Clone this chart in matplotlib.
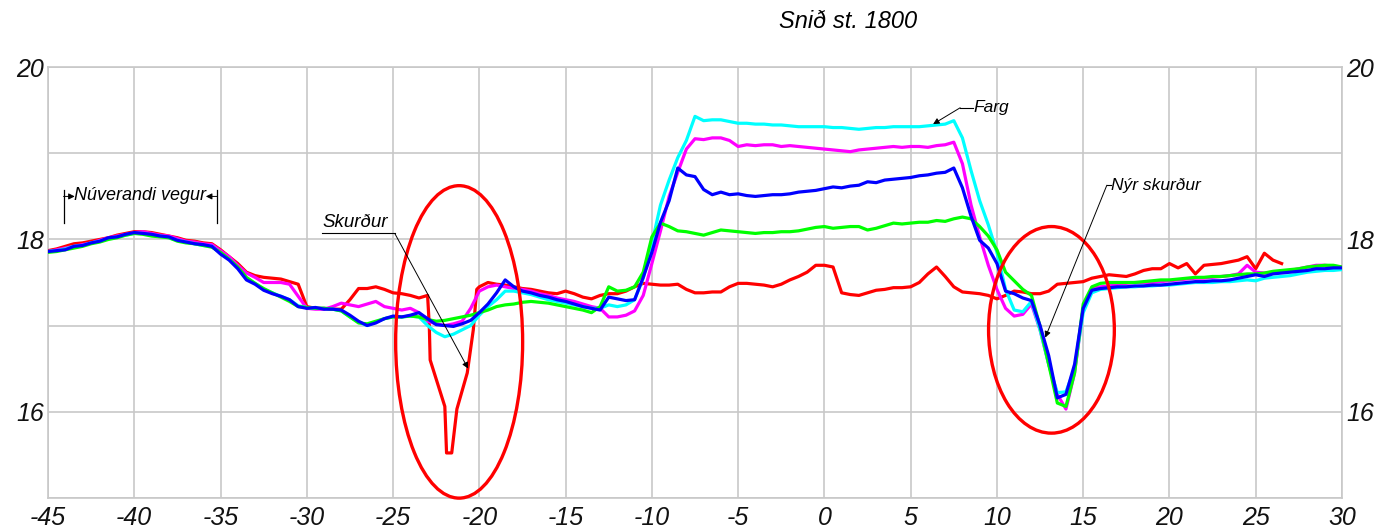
import numpy as np
import matplotlib
matplotlib.use('Agg')
import matplotlib.pyplot as plt
from matplotlib.patches import Ellipse

plt.rcParams['font.family'] = ['Liberation Sans', 'DejaVu Sans']
plt.rcParams['font.style'] = 'italic'
plt.rcParams['axes.unicode_minus'] = False

# ---------------- data (station x [m], elevation [m]) ----------------
x_grid = np.arange(-45, 30.01, 0.5)

blue = [17.86, 17.87, 17.88, 17.92, 17.93, 17.96, 17.98, 18.02, 18.03, 18.06,
        18.08, 18.07, 18.06, 18.04, 18.03, 17.99, 17.97, 17.95, 17.94, 17.92,
        17.83, 17.76, 17.66, 17.53, 17.48, 17.41, 17.37, 17.34, 17.30, 17.22,
        17.20, 17.21, 17.19, 17.19, 17.18, 17.12, 17.05, 17.00, 17.03, 17.08,
        17.11, 17.10, 17.12, 17.15, 17.08, 17.01, 17.00, 16.99, 17.02, 17.06,
        17.15, 17.25, 17.38, 17.53, 17.45, 17.40, 17.38, 17.35, 17.33, 17.30,
        17.28, 17.25, 17.22, 17.20, 17.18, 17.33, 17.31, 17.29, 17.30, 17.56,
        17.85, 18.20, 18.45, 18.83, 18.75, 18.73, 18.58, 18.52, 18.55, 18.52,
        18.53, 18.51, 18.50, 18.51, 18.52, 18.52, 18.53, 18.55, 18.56, 18.57,
        18.59, 18.61, 18.60, 18.62, 18.63, 18.67, 18.66, 18.69, 18.70, 18.71,
        18.72, 18.74, 18.75, 18.77, 18.78, 18.83, 18.60, 18.27, 17.99, 17.90,
        17.72, 17.40, 17.37, 17.32, 17.29, 17.00, 16.65, 16.16, 16.20, 16.55,
        17.20, 17.41, 17.43, 17.44, 17.45, 17.45, 17.46, 17.46, 17.47, 17.47,
        17.48, 17.49, 17.50, 17.51, 17.51, 17.52, 17.52, 17.53, 17.55, 17.57,
        17.59, 17.57, 17.60, 17.61, 17.62, 17.63, 17.64, 17.66, 17.66, 17.67,
        17.67]

green = [17.85, 17.86, 17.88, 17.90, 17.92, 17.95, 17.97, 18.00, 18.02, 18.05,
         18.07, 18.06, 18.04, 18.03, 18.02, 17.98, 17.96, 17.95, 17.93, 17.91,
         17.85, 17.77, 17.68, 17.56, 17.49, 17.43, 17.38, 17.33, 17.28, 17.22,
         17.21, 17.20, 17.20, 17.19, 17.17, 17.10, 17.03, 17.02, 17.05, 17.08,
         17.10, 17.10, 17.11, 17.10, 17.07, 17.05, 17.06, 17.08, 17.10, 17.12,
         17.15, 17.18, 17.22, 17.24, 17.25, 17.27, 17.28, 17.27, 17.26, 17.24,
         17.22, 17.20, 17.18, 17.15, 17.22, 17.45, 17.40, 17.41, 17.45, 17.62,
         18.03, 18.19, 18.15, 18.10, 18.09, 18.07, 18.05, 18.08, 18.11, 18.10,
         18.09, 18.08, 18.07, 18.08, 18.08, 18.09, 18.09, 18.10, 18.12, 18.14,
         18.15, 18.13, 18.14, 18.15, 18.15, 18.11, 18.13, 18.16, 18.19, 18.18,
         18.19, 18.20, 18.20, 18.22, 18.21, 18.24, 18.26, 18.24, 18.15, 18.04,
         17.88, 17.62, 17.52, 17.42, 17.35, 16.99, 16.55, 16.10, 16.06, 16.45,
         17.25, 17.45, 17.49, 17.50, 17.50, 17.50, 17.50, 17.51, 17.52, 17.53,
         17.53, 17.54, 17.55, 17.56, 17.56, 17.57, 17.57, 17.58, 17.59, 17.60,
         17.60, 17.61, 17.63, 17.64, 17.65, 17.66, 17.68, 17.69, 17.70, 17.70,
         17.68]

cyan = [17.86, 17.87, 17.89, 17.92, 17.93, 17.96, 17.98, 18.01, 18.03, 18.05,
        18.07, 18.07, 18.05, 18.04, 18.02, 17.99, 17.97, 17.95, 17.93, 17.92,
        17.84, 17.77, 17.67, 17.55, 17.49, 17.42, 17.38, 17.34, 17.30, 17.23,
        17.21, 17.20, 17.20, 17.19, 17.17, 17.10, 17.04, 17.00, 17.04, 17.08,
        17.10, 17.10, 17.11, 17.10, 17.00, 16.92, 16.87, 16.90, 16.95, 17.00,
        17.12, 17.22, 17.30, 17.40, 17.40, 17.38, 17.36, 17.33, 17.30, 17.28,
        17.26, 17.24, 17.22, 17.20, 17.20, 17.24, 17.22, 17.24, 17.30, 17.55,
        17.95, 18.40, 18.69, 18.95, 19.15, 19.43, 19.38, 19.39, 19.39, 19.37,
        19.35, 19.35, 19.34, 19.34, 19.33, 19.33, 19.32, 19.31, 19.31, 19.31,
        19.31, 19.30, 19.30, 19.29, 19.28, 19.29, 19.30, 19.30, 19.31, 19.31,
        19.31, 19.31, 19.32, 19.33, 19.34, 19.38, 19.18, 18.80, 18.45, 18.17,
        17.85, 17.42, 17.18, 17.16, 17.28, 16.95, 16.55, 16.22, 16.23, 16.50,
        17.15, 17.38, 17.42, 17.43, 17.44, 17.45, 17.45, 17.46, 17.46, 17.47,
        17.47, 17.48, 17.49, 17.50, 17.50, 17.50, 17.51, 17.51, 17.52, 17.53,
        17.52, 17.55, 17.56, 17.57, 17.58, 17.60, 17.62, 17.63, 17.64, 17.64,
        17.65]

magenta = [17.86, 17.88, 17.90, 17.92, 17.94, 17.96, 17.99, 18.02, 18.04, 18.06,
           18.08, 18.09, 18.07, 18.05, 18.04, 18.01, 17.98, 17.97, 17.95, 17.94,
           17.87, 17.80, 17.70, 17.61, 17.56, 17.50, 17.50, 17.50, 17.48, 17.34,
           17.20, 17.19, 17.19, 17.22, 17.26, 17.24, 17.22, 17.25, 17.28, 17.22,
           17.20, 17.18, 17.20, 17.15, 17.05, 17.02, 17.00, 17.02, 17.05, 17.20,
           17.40, 17.45, 17.47, 17.45, 17.43, 17.42, 17.40, 17.37, 17.35, 17.32,
           17.30, 17.28, 17.25, 17.22, 17.20, 17.10, 17.10, 17.12, 17.17, 17.35,
           17.72, 18.10, 18.50, 18.78, 19.05, 19.17, 19.16, 19.18, 19.18, 19.15,
           19.08, 19.10, 19.09, 19.10, 19.10, 19.08, 19.09, 19.08, 19.07, 19.06,
           19.05, 19.04, 19.03, 19.02, 19.04, 19.05, 19.06, 19.07, 19.08, 19.07,
           19.08, 19.08, 19.07, 19.09, 19.10, 19.13, 18.88, 18.40, 18.03, 17.70,
           17.42, 17.20, 17.11, 17.13, 17.25, 16.95, 16.55, 16.20, 16.03, 16.45,
           17.20, 17.43, 17.45, 17.46, 17.48, 17.49, 17.50, 17.50, 17.50, 17.51,
           17.52, 17.53, 17.54, 17.55, 17.55, 17.56, 17.57, 17.58, 17.60, 17.70,
           17.62, 17.61, 17.62, 17.63, 17.64, 17.66, 17.68, 17.70, 17.70, 17.69,
           17.68]

# red: regular grid before and after the ditch, detailed readings inside it
red_x_left = np.arange(-45, -23.49, 0.5)
red_y_left = [17.87, 17.89, 17.92, 17.95, 17.96, 17.98, 18.00, 18.02, 18.05, 18.07,
              18.09, 18.09, 18.08, 18.06, 18.04, 18.02, 17.99, 17.98, 17.96, 17.95,
              17.88, 17.80, 17.72, 17.62, 17.58, 17.56, 17.55, 17.54, 17.51, 17.48,
              17.22, 17.20, 17.20, 17.19, 17.19, 17.30, 17.43, 17.43, 17.45, 17.42,
              17.38, 17.37, 17.35, 17.32]
red_x_dip = [-23.0, -22.9, -22.85, -22.3, -22.0, -21.9, -21.6, -21.3, -20.7, -20.35, -20.15]
red_y_dip = [17.35, 17.00, 16.60, 16.25, 16.06, 15.52, 15.52, 16.03, 16.45, 16.95, 17.42]
red_x_right = np.arange(-20, 26.51, 0.5)
red_y_right = [17.45, 17.50, 17.48, 17.47, 17.45, 17.43, 17.42, 17.40, 17.38, 17.37,
               17.40, 17.37, 17.33, 17.31, 17.35, 17.37, 17.37, 17.40, 17.45, 17.49,
               17.48, 17.47, 17.47, 17.48, 17.42, 17.38, 17.38, 17.39, 17.39, 17.45,
               17.49, 17.49, 17.48, 17.47, 17.45, 17.48, 17.53, 17.57, 17.62, 17.70,
               17.70, 17.68, 17.38, 17.36, 17.35, 17.38, 17.41, 17.42, 17.44, 17.44,
               17.45, 17.50, 17.60, 17.68, 17.57, 17.45, 17.39, 17.38, 17.37, 17.35,
               17.31, 17.35, 17.40, 17.39, 17.37, 17.37, 17.40, 17.48, 17.49, 17.50,
               17.51, 17.55, 17.57, 17.59, 17.58, 17.57, 17.60, 17.64, 17.66, 17.66,
               17.72, 17.67, 17.72, 17.60, 17.70, 17.71, 17.72, 17.74, 17.76, 17.80,
               17.66, 17.84, 17.76, 17.72]
red_x = np.concatenate([red_x_left, red_x_dip, red_x_right])
red_y = np.concatenate([red_y_left, red_y_dip, red_y_right])

x_ticks = list(range(-45, 31, 5))
y_ticks = [15, 16, 17, 18, 19, 20]
y_tick_labels = ['', '16', '', '18', '', '20']
title = 'Snið st. 1800'

# ---------------- figure ----------------
fig = plt.figure(figsize=(13.8, 5.3), dpi=100)
ax = fig.add_axes([48 / 1380, 32.3 / 530, 1294 / 1380, 430.4 / 530])

lw = 2.3
ax.plot(red_x, red_y, color='#ff0000', lw=lw, zorder=3)
ax.plot(x_grid, magenta, color='#ff00ff', lw=lw, zorder=4)
ax.plot(x_grid, cyan, color='#00ffff', lw=lw, zorder=5)
ax.plot(x_grid, green, color='#00ff00', lw=lw, zorder=6)
ax.plot(x_grid, blue, color='#0000ff', lw=lw, zorder=7)

ax.set_xlim(-45, 30)
ax.set_ylim(15, 20)
ax.set_xticks(x_ticks)
ax.set_yticks(y_ticks)
ax.set_yticklabels(y_tick_labels)
ax.grid(True, color='#c8c8c8', lw=1.2, zorder=0)
ax.set_axisbelow(True)
for s in ax.spines.values():
    s.set_color('#c8c8c8')
    s.set_linewidth(1.2)
ax.tick_params(axis='both', length=0, labelsize=18, colors='#111111')
ax.tick_params(axis='x', pad=6)
ax.tick_params(axis='y', pad=3, labelright=True)

fig.text(848 / 1380, 1 - 22 / 530, title, ha='center', va='center', fontsize=17)

# ellipses marking ditches
ax.add_patch(Ellipse((-21.17, 16.81), 7.36, 3.63, fill=False, ec='#ff0000', lw=2.4,
                     clip_on=False, zorder=8))
ax.add_patch(Ellipse((13.16, 16.95), 7.29, 2.40, fill=False, ec='#ff0000', lw=2.4,
                     clip_on=False, zorder=8))

arrow_kw = dict(arrowstyle='-|>', color='black', lw=0.7, mutation_scale=9,
                shrinkA=0, shrinkB=0)
fs_ann = 13

# Núverandi vegur (dimension)
ax.plot([-44.1, -44.1], [18.19, 18.57], color='black', lw=0.9, zorder=9)
ax.plot([-35.2, -35.2], [18.19, 18.57], color='black', lw=0.9, zorder=9)
ax.annotate('', xy=(-43.45, 18.5), xytext=(-44.1, 18.5), arrowprops=arrow_kw, zorder=9)
ax.annotate('', xy=(-35.85, 18.5), xytext=(-35.2, 18.5), arrowprops=arrow_kw, zorder=9)
ax.text(-39.65, 18.51, 'Núverandi vegur', ha='center', va='center', fontsize=fs_ann, zorder=9)

# Skurður
ax.text(-29.1, 18.1, 'Skurður', ha='left', va='bottom', fontsize=fs_ann + 0.5, zorder=9)
ax.plot([-29.1, -24.9], [18.07, 18.07], color='black', lw=0.8, zorder=9)
ax.annotate('', xy=(-20.65, 16.5), xytext=(-24.9, 18.07), arrowprops=arrow_kw, zorder=9)

# Farg
ax.text(8.62, 19.53, 'Farg', ha='left', va='center', fontsize=fs_ann - 0.5, zorder=9)
ax.plot([7.87, 8.6], [19.53, 19.53], color='black', lw=0.8, zorder=9)
ax.annotate('', xy=(6.3, 19.34), xytext=(7.87, 19.53), arrowprops=arrow_kw, zorder=9)

# Nýr skurður
ax.text(16.6, 18.63, 'Nýr skurður', ha='left', va='center', fontsize=fs_ann - 0.5, zorder=9)
ax.plot([16.37, 16.6], [18.63, 18.63], color='black', lw=0.8, zorder=9)
ax.annotate('', xy=(12.8, 16.86), xytext=(16.37, 18.63), arrowprops=arrow_kw, zorder=9)

fig.savefig('out.png', dpi=100)
